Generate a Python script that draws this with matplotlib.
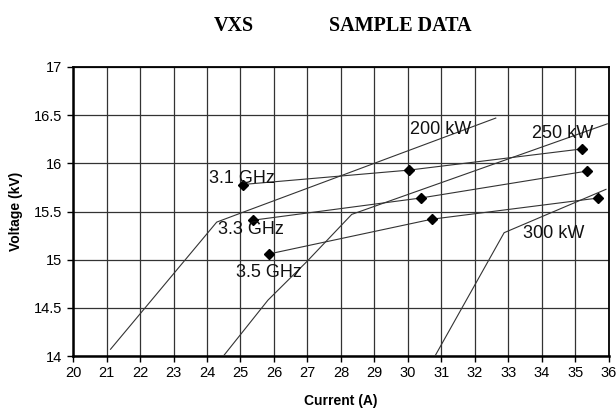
import matplotlib
matplotlib.use("Agg")
import matplotlib.pyplot as plt

# Constant-power curves (current A, voltage kV)
p200_x = [21.12, 24.29, 24.98, 32.62]
p200_y = [14.07, 15.39, 15.48, 16.47]
p250_x = [24.49, 25.82, 26.98, 28.32, 35.95]
p250_y = [14.00, 14.58, 14.98, 15.47, 16.41]
p300_x = [30.79, 32.87, 35.91]
p300_y = [13.99, 15.28, 15.73]

# Frequency curves with measured points
f31_x = [25.06, 30.04, 35.20]
f31_y = [15.78, 15.93, 16.15]
f33_x = [25.38, 30.38, 35.35]
f33_y = [15.41, 15.64, 15.92]
f35_x = [25.86, 30.71, 35.68]
f35_y = [15.06, 15.42, 15.64]

labels = [("3.1 GHz", 25.04, 15.84), ("3.3 GHz", 25.30, 15.31),
          ("3.5 GHz", 25.84, 14.87), ("200 kW", 30.99, 16.35),
          ("250 kW", 34.63, 16.31), ("300 kW", 34.36, 15.27)]

x_ticks = list(range(20, 37))
y_ticks = [14, 14.5, 15, 15.5, 16, 16.5, 17]
y_ticklabels = ["14", "14.5", "15", "15.5", "16", "16.5", "17"]

plt.rcParams['font.family'] = ['Liberation Sans', 'DejaVu Sans']

fig = plt.figure(figsize=(6.16, 4.12), dpi=100)
ax = fig.add_axes([73/616, 56/412, 536/616, 289/412])

line_kw = dict(color="#333333", linewidth=0.8)
for xs, ys in [(p200_x, p200_y), (p250_x, p250_y), (p300_x, p300_y)]:
    ax.plot(xs, ys, **line_kw, zorder=3)
for xs, ys in [(f31_x, f31_y), (f33_x, f33_y), (f35_x, f35_y)]:
    ax.plot(xs, ys, **line_kw, zorder=3)
    ax.plot(xs, ys, linestyle="none", marker="D", markersize=5.3,
            color="black", zorder=4)

for txt, x, y in labels:
    ax.text(x, y, txt, fontsize=13, ha="center", va="center", color="#111111", zorder=5)

ax.set_xlim(20, 36)
ax.set_ylim(14, 17)
ax.set_xticks(x_ticks)
ax.set_yticks(y_ticks)
ax.set_yticklabels(y_ticklabels)
ax.tick_params(axis="both", labelsize=10.5, length=4, width=1, direction="out", colors="black")
ax.grid(True, color="#333333", linewidth=0.9, zorder=1)
ax.set_axisbelow(True)
for side, sp in ax.spines.items():
    sp.set_color("black")
    sp.set_linewidth(1.8 if side in ("left", "bottom") else 1.3)

ax.set_xlabel("Current (A)", fontsize=10, fontweight="bold", labelpad=10)
ax.set_ylabel("Voltage (kV)", fontsize=10, fontweight="bold", labelpad=8)

fig.text(234/616, 1 - 26/412, "VXS", family=["Liberation Serif", "DejaVu Serif"],
         fontsize=14.5, fontweight="bold", ha="center", va="center")
fig.text(400/616, 1 - 26/412, "SAMPLE DATA", family=["Liberation Serif", "DejaVu Serif"],
         fontsize=14.5, fontweight="bold", ha="center", va="center")

fig.savefig("out.png", dpi=100)
